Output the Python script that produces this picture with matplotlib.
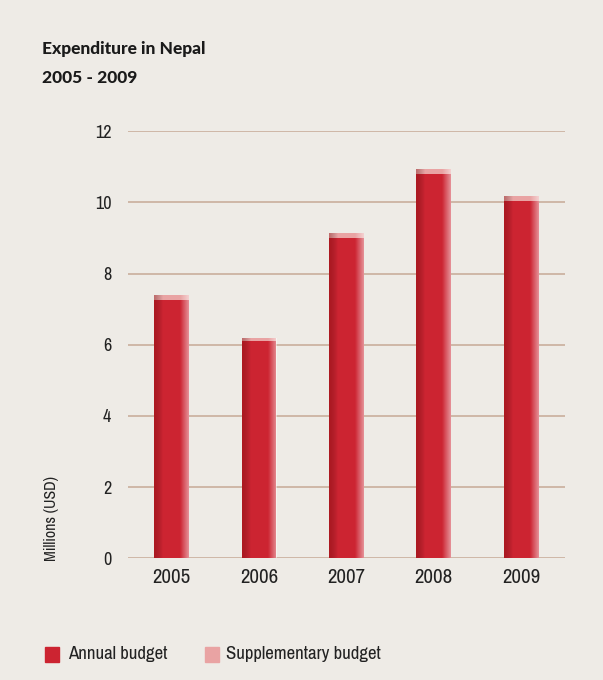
import matplotlib
matplotlib.use("Agg")
import matplotlib.pyplot as plt
import numpy as np
from matplotlib.colors import LinearSegmentedColormap
from matplotlib import font_manager as fm

years = ["2005", "2006", "2007", "2008", "2009"]
annual_budget = [7.25, 6.1, 9.0, 10.8, 10.05]
supplementary_budget = [0.15, 0.1, 0.13, 0.15, 0.12]
yticks = [0, 2, 4, 6, 8, 10, 12]

bg = "#eeebe6"
red = "#cc2431"
pink = "#e9a3a3"
grid_c = "#c9ae9c"

names = sorted({f.name for f in fm.fontManager.ttflist})
cond = [n for n in names if "Condensed" in n or "Narrow" in n]
narrow = (cond[:1] if cond else []) + ["DejaVu Sans"]

fig = plt.figure(figsize=(6.03, 6.8), dpi=100, facecolor=bg)
ax = fig.add_axes([0.212, 0.179, 0.725, 0.628], facecolor=bg)

x = np.arange(len(years))
b1 = ax.bar(x, annual_budget, width=0.4, color=red, zorder=3)
b2 = ax.bar(x, supplementary_budget, bottom=annual_budget, width=0.4, color=pink, zorder=3)

cmap = LinearSegmentedColormap.from_list("sh", [(0, (0.45, 0, 0, 0.35)), (0.25, (0, 0, 0, 0)),
                                                (0.75, (1, 1, 1, 0)), (1, (1, 1, 1, 0.5))])
grad = np.linspace(0, 1, 64).reshape(1, -1)
for p in list(b1) + list(b2):
    x0, y0 = p.get_x(), p.get_y()
    w, h = p.get_width(), p.get_height()
    im = ax.imshow(grad, extent=[x0, x0 + w, y0, y0 + h], cmap=cmap, aspect="auto", zorder=4,
                   interpolation="bicubic")
    im.set_clip_path(p)

ax.set_xlim(-0.5, 4.5)
ax.set_ylim(0, 12)
ax.set_yticks(yticks)
ax.set_yticklabels([str(t) for t in yticks], family=narrow, fontstretch="condensed",
                   fontsize=13, color="#222222")
ax.set_xticks(x)
ax.set_xticklabels(years, family=narrow, fontstretch="condensed", fontsize=15, color="#222222")
ax.tick_params(length=0, axis="y", pad=12)
ax.tick_params(length=0, axis="x", pad=7)
ax.yaxis.grid(True, color=grid_c, linewidth=1.2, zorder=0)
for s in ax.spines.values():
    s.set_visible(False)
ax.set_axisbelow(True)

fig.text(0.085, 0.238, "Millions (USD)", rotation=90, ha="center", va="center",
         family=narrow, fontstretch="condensed", fontsize=11.5, color="#222222")

fig.text(0.07, 0.928, "Expenditure in Nepal", fontsize=12.5, fontweight="black",
         family=["Lato", "DejaVu Sans"], color="#1a1a1a", va="center")
fig.text(0.07, 0.885, "2005 - 2009", fontsize=12.5, fontweight="black",
         family=["Lato", "DejaVu Sans"], color="#1a1a1a", va="center")

fig.patches.append(plt.Rectangle((0.074, 0.027), 0.024, 0.022, transform=fig.transFigure,
                                 color=red, figure=fig))
fig.text(0.113, 0.038, "Annual budget", family=narrow, fontstretch="condensed",
         fontsize=13.5, color="#222222", va="center")
fig.patches.append(plt.Rectangle((0.34, 0.027), 0.024, 0.022, transform=fig.transFigure,
                                 color=pink, figure=fig))
fig.text(0.375, 0.038, "Supplementary budget", family=narrow, fontstretch="condensed",
         fontsize=13.5, color="#222222", va="center")

fig.savefig("out.png", dpi=100, facecolor=bg)
